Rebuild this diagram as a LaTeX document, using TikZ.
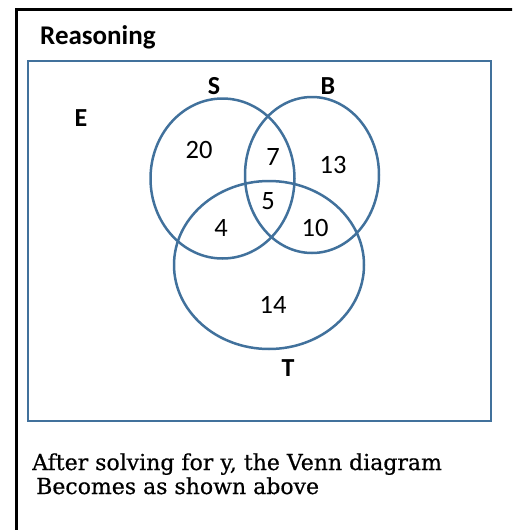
\documentclass[tikz,border=0pt]{standalone}
\usepackage{fontspec}
\setmainfont{DejaVu Serif}[FakeBold=0.6]
\setsansfont{Carlito}
\definecolor{vennblue}{RGB}{65,113,156}

\begin{document}
\begin{tikzpicture}[
  x=1pt, y=-1pt,
  font=\sffamily,
  count/.style={font=\sffamily\fontsize{26.5}{31}\selectfont, inner sep=0pt},
  setname/.style={font=\sffamily\bfseries\fontsize{26}{31}\selectfont, inner sep=0pt},
  ring/.style={draw=vennblue, line width=2.5pt},
  caption/.style={anchor=base west, inner sep=0pt, font=\rmfamily\fontsize{22}{26}\selectfont}
]
\useasboundingbox (0,0) rectangle (512,530);
\clip (0,0) rectangle (512,530);

% frame and universe
\draw[line width=3pt] (16,560) |- (540,9.5);
\draw[ring] (28,61) rectangle (491,421);

\node[anchor=base west, inner sep=0pt, font=\sffamily\bfseries\fontsize{27}{32}\selectfont] (title) at (40,44) {Reasoning};

% the three sets
\draw[ring] (222.5,178.5) ellipse [x radius=72, y radius=80];
\draw[ring] (312,175) ellipse [x radius=67, y radius=78];
\draw[ring] (269,265) ellipse [x radius=95, y radius=84];

\node[setname] (setE) at (81,118) {E};
\node[setname] (setS) at (214,86) {S};
\node[setname] (setB) at (328,86) {B};
\node[setname] (setT) at (288,368) {T};

\node[count] (onlyS) at (199,150) {20};
\node[count] (SB) at (273,157) {7};
\node[count] (onlyB) at (333,165) {13};
\node[count] (SBT) at (268,201) {5};
\node[count] (ST) at (221,228) {4};
\node[count] (BT) at (315,228) {10};
\node[count] (onlyT) at (273,305) {14};

\node[caption] (lineOne) at (32,470) {After solving for y, the Venn diagram};
\node[caption] (lineTwo) at (36,494) {Becomes as shown above};

\end{tikzpicture}
\end{document}
